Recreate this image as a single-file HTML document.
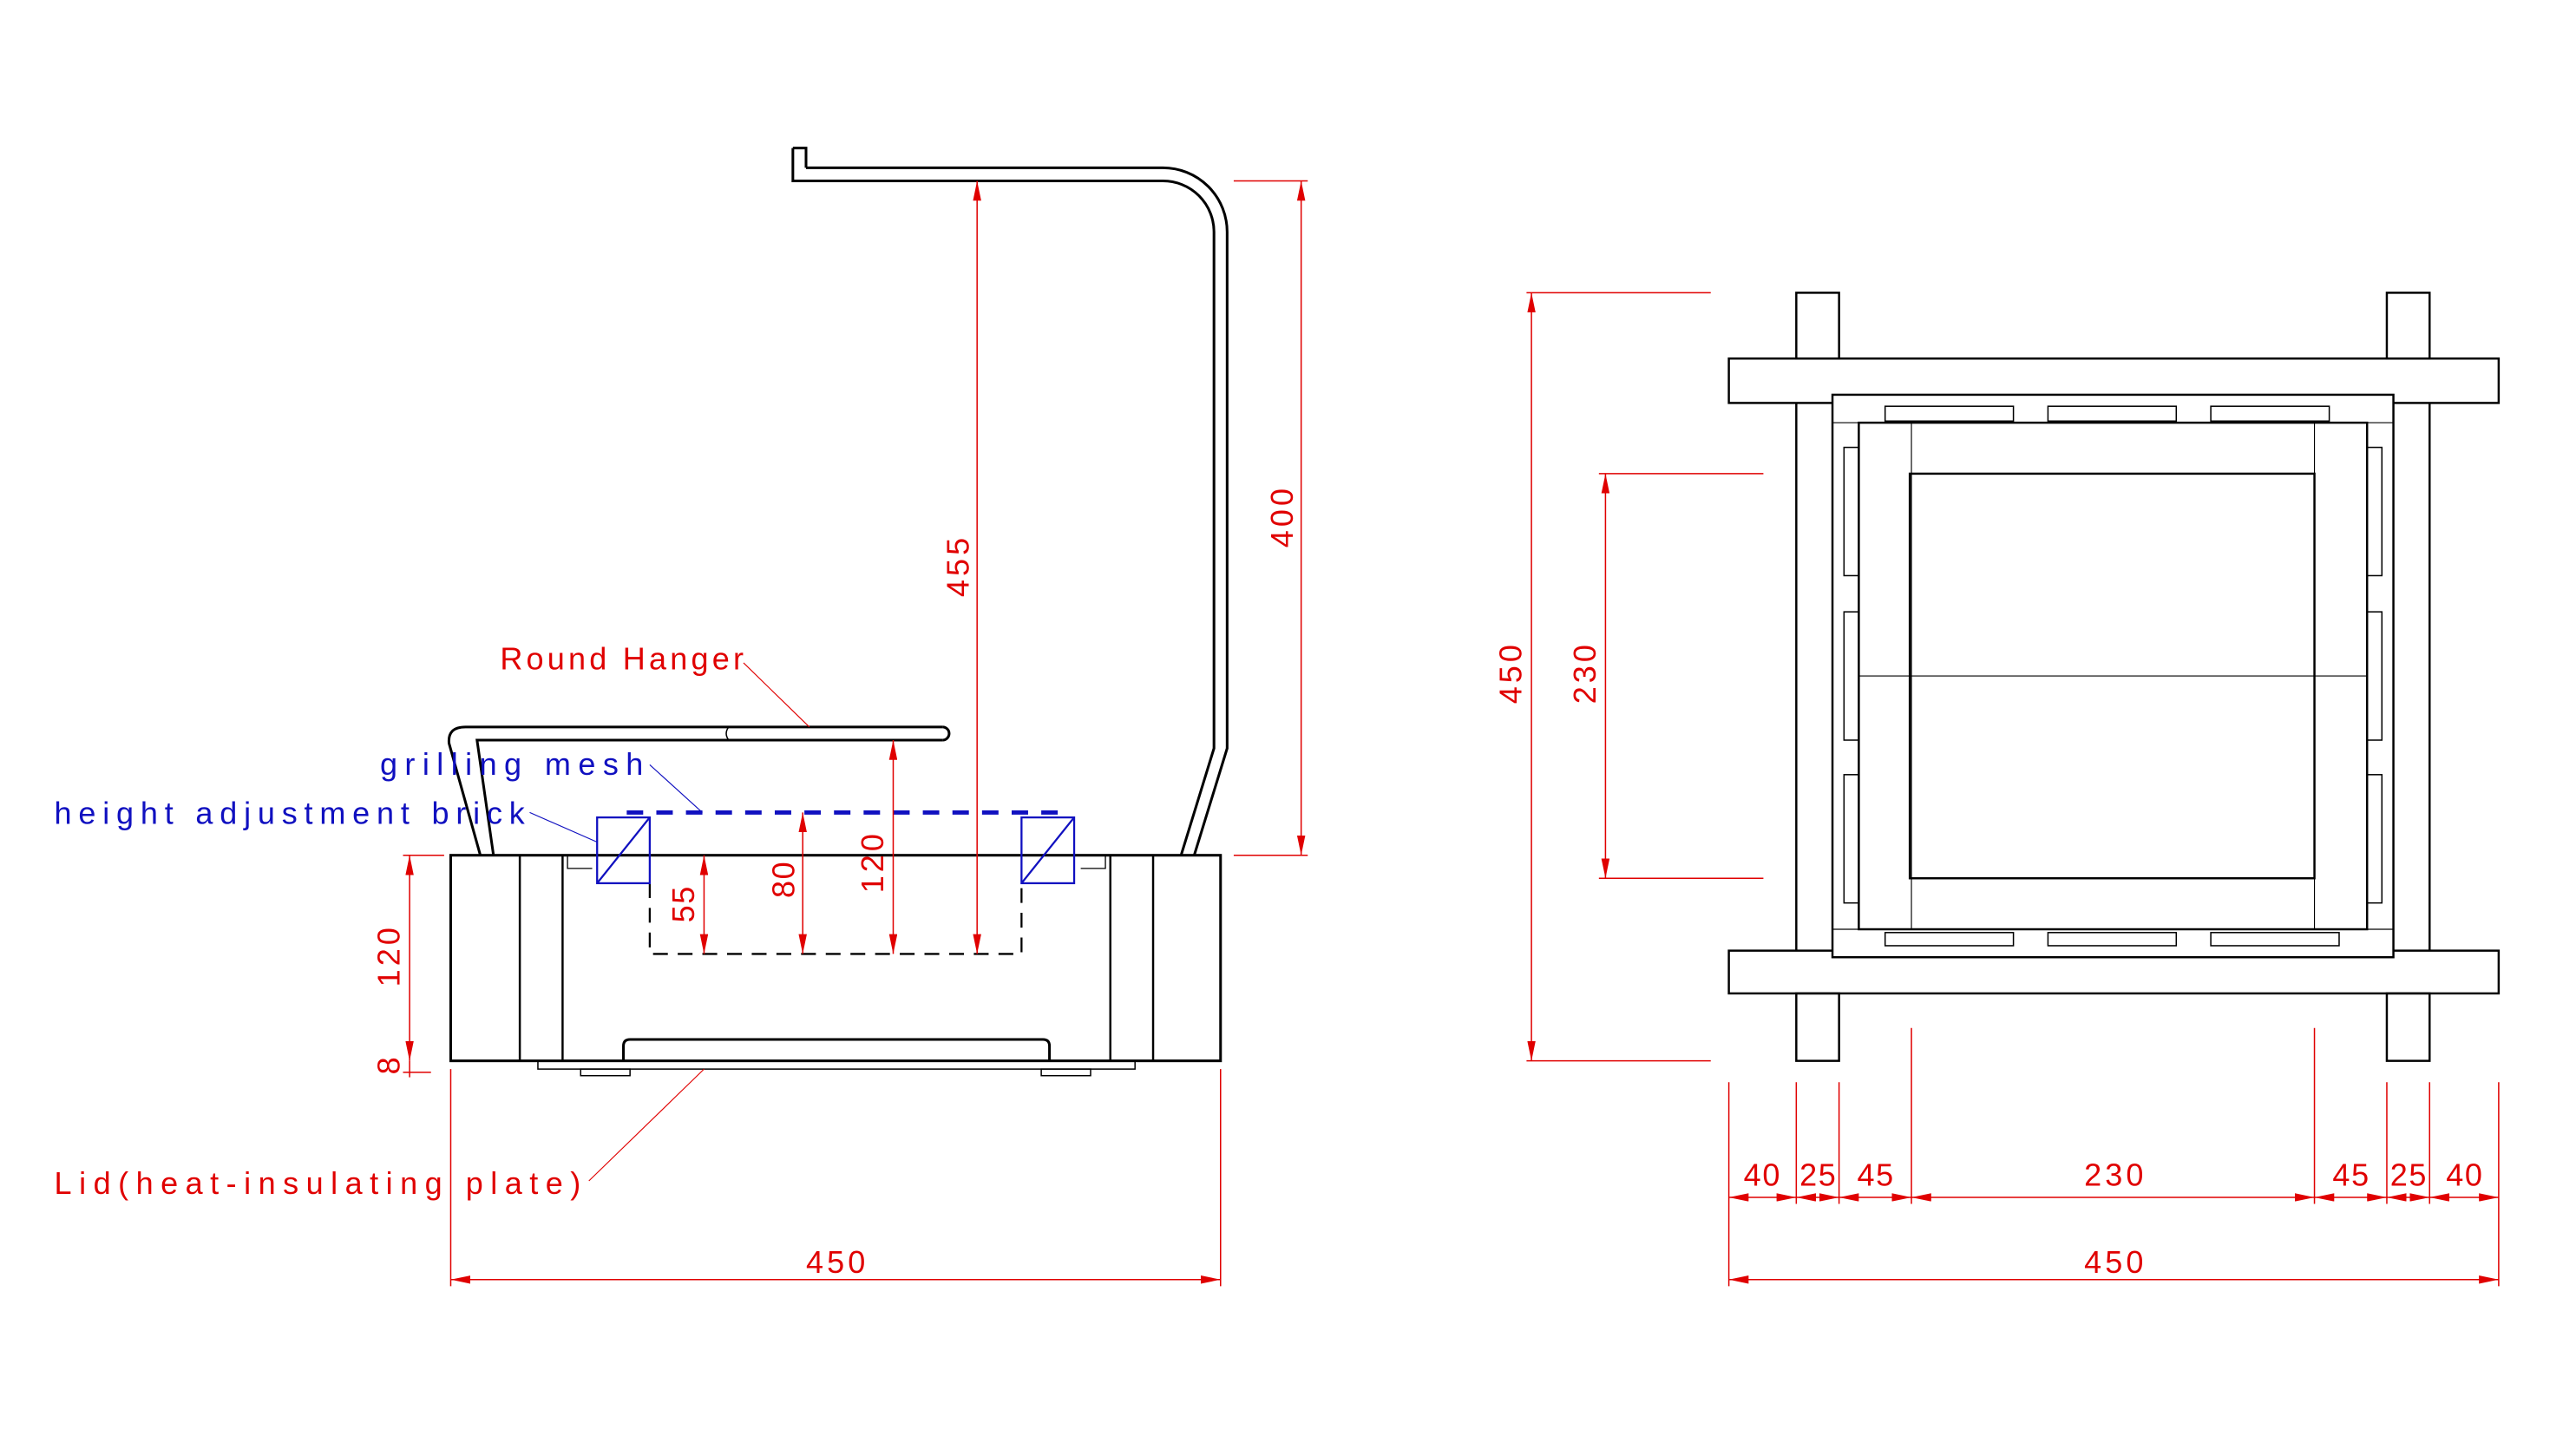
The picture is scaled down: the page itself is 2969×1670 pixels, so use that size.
<!DOCTYPE html>
<html><head><meta charset="utf-8"><style>html,body{margin:0;padding:0;background:#fff}svg{display:block}</style></head>
<body>
<svg width="2969" height="1670" viewBox="0 0 1566 881" preserveAspectRatio="none" xmlns="http://www.w3.org/2000/svg">
<defs>
<marker id="a" viewBox="0 0 12 5" refX="12" refY="2.5" markerWidth="12" markerHeight="5" markerUnits="userSpaceOnUse" orient="auto-start-reverse"><path d="M0,0L12,2.5L0,5z" fill="#e00000"/></marker>
</defs>
<rect width="1566" height="881" fill="#fff"/>
<g fill="none" stroke="#000" stroke-width="1.3">
<rect x="274" y="520" width="468" height="125" stroke-width="1.6"/>
<line x1="316" y1="520" x2="316" y2="645"/><line x1="342" y1="520" x2="342" y2="645"/>
<line x1="675" y1="520" x2="675" y2="645"/><line x1="701" y1="520" x2="701" y2="645"/>
<path d="M345,520V528H360" stroke-width="0.7"/><path d="M672,520V528H657" stroke-width="0.7"/>
<path d="M379,645V636Q379,632 383,632H634Q638,632 638,636V645" stroke-width="1.6"/>
<rect x="327" y="645" width="363" height="5" stroke-width="0.8"/>
<rect x="353" y="650" width="30" height="4" stroke-width="0.8"/>
<rect x="633" y="650" width="30" height="4" stroke-width="0.8"/>
<path d="M490,102H707A39,39 0 0 1 746,141V455L726,520" stroke-width="1.6"/>
<path d="M482,90V110H707A31,31 0 0 1 738,141V455L718,520" stroke-width="1.6"/>
<path d="M482,90H490V102" stroke-width="1.6"/>
<path d="M573,442H283Q272,442 273,452L292,520" stroke-width="1.6"/>
<path d="M573,450H290L300,520" stroke-width="1.6"/>
<path d="M573,442A4,4 0 0 1 573,450" stroke-width="1.6"/>
<path d="M443,442Q440,446 443,450" stroke-width="0.8"/>
<path d="M395,537V580H621V537" stroke-dasharray="9,6" stroke-width="1.2"/>
</g>
<g stroke="#1010c0" fill="none">
<line x1="381" y1="494" x2="643" y2="494" stroke-width="2.6" stroke-dasharray="10,8"/>
<rect x="363" y="497" width="32" height="40" stroke-width="1.2"/>
<line x1="363" y1="537" x2="395" y2="497" stroke-width="1.2"/>
<rect x="621" y="497" width="32" height="40" stroke-width="1.2"/>
<line x1="621" y1="537" x2="653" y2="497" stroke-width="1.2"/>
<line x1="395" y1="465" x2="427" y2="494" stroke-width="0.6"/>
<line x1="322" y1="494" x2="363" y2="512" stroke-width="0.6"/>
</g>
<g fill="none" stroke="#000" stroke-width="1.3">
<rect x="1092" y="178" width="26" height="40"/><rect x="1092" y="604" width="26" height="41"/>
<rect x="1451" y="178" width="26" height="40"/><rect x="1451" y="604" width="26" height="41"/>
<line x1="1092" y1="245" x2="1092" y2="578"/><line x1="1477" y1="245" x2="1477" y2="578"/>
<line x1="1118" y1="245" x2="1118" y2="578" stroke-width="0.8"/><line x1="1451" y1="245" x2="1451" y2="578" stroke-width="0.8"/>
<rect x="1051" y="218" width="468" height="27"/>
<rect x="1051" y="578" width="468" height="26"/>
<rect x="1114" y="240" width="341" height="342" fill="#fff"/>
<rect x="1130" y="257" width="309" height="308"/>
<rect x="1161" y="288" width="246" height="246"/>
<g stroke-width="0.6">
<line x1="1162" y1="257" x2="1162" y2="565"/><line x1="1407" y1="257" x2="1407" y2="565"/>
<line x1="1130" y1="411" x2="1439" y2="411"/>
<line x1="1114" y1="257" x2="1130" y2="257"/><line x1="1439" y1="257" x2="1455" y2="257"/>
<line x1="1114" y1="565" x2="1130" y2="565"/><line x1="1439" y1="565" x2="1455" y2="565"/>
</g>
<g stroke-width="0.8">
<rect x="1146" y="247" width="78" height="9"/><rect x="1245" y="247" width="78" height="9"/><rect x="1344" y="247" width="72" height="9"/>
<rect x="1146" y="567" width="78" height="8"/><rect x="1245" y="567" width="78" height="8"/><rect x="1344" y="567" width="78" height="8"/>
<rect x="1121" y="272" width="9" height="78"/><rect x="1121" y="372" width="9" height="78"/><rect x="1121" y="471" width="9" height="78"/>
<rect x="1439" y="272" width="9" height="78"/><rect x="1439" y="372" width="9" height="78"/><rect x="1439" y="471" width="9" height="78"/>
</g>
</g>
<g stroke="#e00000" stroke-width="0.8" fill="none">
<line x1="428" y1="520" x2="428" y2="580" marker-start="url(#a)" marker-end="url(#a)"/>
<line x1="488" y1="494" x2="488" y2="580" marker-start="url(#a)" marker-end="url(#a)"/>
<line x1="543" y1="450" x2="543" y2="580" marker-start="url(#a)" marker-end="url(#a)"/>
<line x1="594" y1="110" x2="594" y2="580" marker-start="url(#a)" marker-end="url(#a)"/>
<line x1="791" y1="110" x2="791" y2="520" marker-start="url(#a)" marker-end="url(#a)"/>
<line x1="750" y1="110" x2="795" y2="110"/><line x1="750" y1="520" x2="795" y2="520"/>
<line x1="249" y1="520" x2="249" y2="645" marker-start="url(#a)" marker-end="url(#a)"/>
<line x1="245" y1="520" x2="270" y2="520"/><line x1="245" y1="652" x2="262" y2="652"/><line x1="249" y1="645" x2="249" y2="655"/>
<line x1="274" y1="650" x2="274" y2="782"/><line x1="742" y1="650" x2="742" y2="782"/>
<line x1="274" y1="778" x2="742" y2="778" marker-start="url(#a)" marker-end="url(#a)"/>
<line x1="452" y1="403" x2="492" y2="442" stroke-width="0.6"/>
<line x1="358" y1="718" x2="428" y2="650" stroke-width="0.6"/>
<line x1="931" y1="178" x2="931" y2="645" marker-start="url(#a)" marker-end="url(#a)"/>
<line x1="928" y1="178" x2="1040" y2="178"/><line x1="928" y1="645" x2="1040" y2="645"/>
<line x1="976" y1="288" x2="976" y2="534" marker-start="url(#a)" marker-end="url(#a)"/>
<line x1="972" y1="288" x2="1072" y2="288"/><line x1="972" y1="534" x2="1072" y2="534"/>
<line x1="1051" y1="658" x2="1051" y2="782"/><line x1="1092" y1="658" x2="1092" y2="732"/><line x1="1118" y1="658" x2="1118" y2="732"/>
<line x1="1162" y1="625" x2="1162" y2="732"/><line x1="1407" y1="625" x2="1407" y2="732"/>
<line x1="1451" y1="658" x2="1451" y2="732"/><line x1="1477" y1="658" x2="1477" y2="732"/><line x1="1519" y1="658" x2="1519" y2="782"/>
<line x1="1051" y1="728" x2="1092" y2="728" marker-start="url(#a)" marker-end="url(#a)"/>
<line x1="1092" y1="728" x2="1118" y2="728" marker-start="url(#a)" marker-end="url(#a)"/>
<line x1="1118" y1="728" x2="1162" y2="728" marker-start="url(#a)" marker-end="url(#a)"/>
<line x1="1162" y1="728" x2="1407" y2="728" marker-start="url(#a)" marker-end="url(#a)"/>
<line x1="1407" y1="728" x2="1451" y2="728" marker-start="url(#a)" marker-end="url(#a)"/>
<line x1="1451" y1="728" x2="1477" y2="728" marker-start="url(#a)" marker-end="url(#a)"/>
<line x1="1477" y1="728" x2="1519" y2="728" marker-start="url(#a)" marker-end="url(#a)"/>
<line x1="1051" y1="778" x2="1519" y2="778" marker-start="url(#a)" marker-end="url(#a)"/>
</g>
<g font-family="'Liberation Sans', sans-serif" font-size="19" fill="#e00000" lengthAdjust="spacingAndGlyphs">
<text x="304" y="407" textLength="148">Round Hanger</text>
<text x="33" y="726" textLength="320">Lid(heat-insulating plate)</text>
<text x="231" y="471" textLength="160" fill="#1010c0">grilling mesh</text>
<text x="33" y="501" textLength="286" fill="#1010c0">height adjustment brick</text>
<g text-anchor="middle">
<text x="508" y="774" textLength="36">450</text>
<text x="1285" y="774" textLength="36">450</text>
<text x="1071" y="721" textLength="22">40</text>
<text x="1105" y="721" textLength="22">25</text>
<text x="1140" y="721" textLength="22">45</text>
<text x="1285" y="721" textLength="36">230</text>
<text x="1429" y="721" textLength="22">45</text>
<text x="1464" y="721" textLength="22">25</text>
<text x="1498" y="721" textLength="22">40</text>
<text transform="translate(422,550) rotate(-90)" textLength="22">55</text>
<text transform="translate(483,535) rotate(-90)" textLength="22">80</text>
<text transform="translate(537,525) rotate(-90)" textLength="36">120</text>
<text transform="translate(589,345) rotate(-90)" textLength="36">455</text>
<text transform="translate(786,315) rotate(-90)" textLength="36">400</text>
<text transform="translate(243,582) rotate(-90)" textLength="36">120</text>
<text transform="translate(243,648) rotate(-90)" textLength="11">8</text>
<text transform="translate(925,410) rotate(-90)" textLength="36">450</text>
<text transform="translate(970,410) rotate(-90)" textLength="36">230</text>
</g>
</g>
</svg>
</body></html>
